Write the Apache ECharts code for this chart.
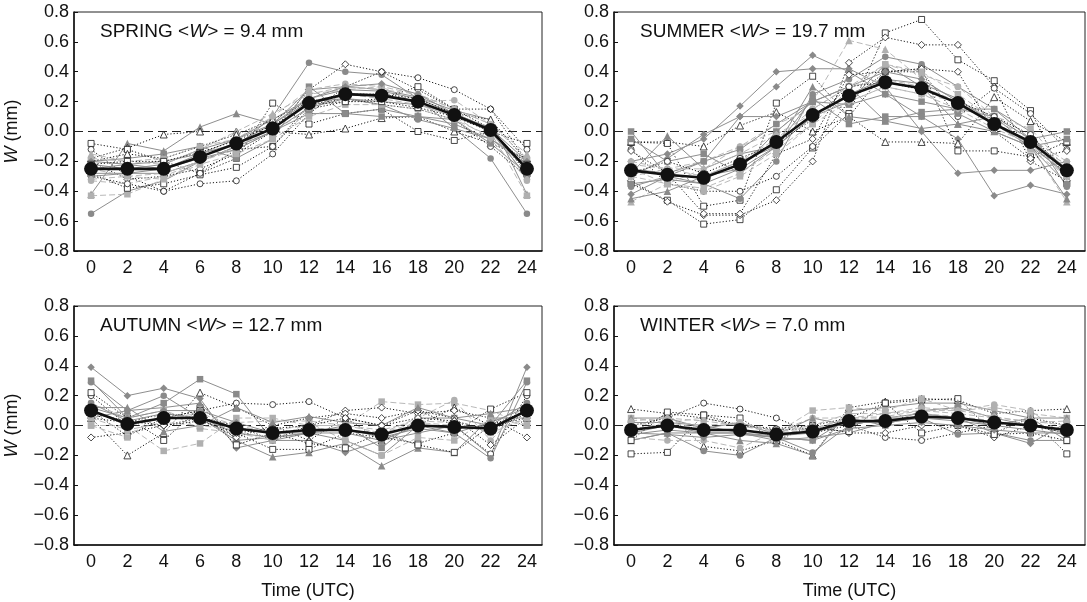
<!DOCTYPE html>
<html>
<head>
<meta charset="utf-8">
<script src="https://cdn.jsdelivr.net/npm/echarts@6/dist/echarts.min.js"></script>
<style>
html,body{margin:0;padding:0;background:#fff;}
#c{width:1087px;height:602px;}
</style>
</head>
<body>
<div id="c"></div>
<script>
// Time of day (UTC)
const hours = [0,2,4,6,8,10,12,14,16,18,20,22,24];

// Season titles
const seasonNames = ['SPRING','SUMMER','AUTUMN','WINTER'];
const seasonMeanW = ['9.4','19.7','12.7','7.0'];

// Mean diurnal cycle per season
const springMean = [-0.25,-0.25,-0.25,-0.17,-0.08,0.02,0.19,0.25,0.24,0.20,0.11,0.01,-0.25];
const summerMean = [-0.26,-0.29,-0.31,-0.22,-0.07,0.11,0.24,0.33,0.29,0.19,0.05,-0.07,-0.26];
const autumnMean = [0.10,0.01,0.05,0.05,-0.02,-0.05,-0.03,-0.03,-0.06,0.00,-0.01,-0.02,0.10];
const winterMean = [-0.03,0.00,-0.03,-0.03,-0.06,-0.04,0.03,0.03,0.06,0.05,0.02,0.00,-0.03];

// Individual stations (estimated)
const springStations = [
  [-0.55,-0.40,-0.33,-0.20,-0.10,0.10,0.46,0.40,0.38,0.22,0.02,-0.18,-0.55],
  [-0.42,-0.08,-0.13,0.03,0.12,0.05,0.28,0.30,0.28,0.23,0.14,0.08,-0.42],
  [-0.43,-0.42,-0.32,-0.20,-0.12,0.00,0.25,0.28,0.30,0.18,0.10,0.00,-0.43],
  [-0.18,-0.11,-0.02,0.00,0.00,0.00,-0.02,0.02,0.09,0.10,0.00,-0.08,-0.18],
  [-0.08,-0.12,-0.20,-0.28,-0.18,0.19,0.05,0.12,0.15,0.00,-0.06,0.00,-0.08],
  [-0.12,-0.30,-0.40,-0.35,-0.33,-0.15,0.12,0.30,0.40,0.36,0.28,0.15,-0.12],
  [-0.20,-0.32,-0.30,-0.25,-0.15,0.00,0.28,0.45,0.40,0.28,0.15,0.15,-0.20],
  [-0.20,-0.18,-0.15,-0.10,-0.18,-0.05,0.30,0.12,0.15,0.10,0.05,-0.05,-0.20],
  [-0.25,-0.22,-0.20,-0.15,-0.05,0.08,0.22,0.28,0.27,0.22,0.12,0.02,-0.25],
  [-0.33,-0.35,-0.30,-0.20,-0.10,0.00,0.15,0.25,0.25,0.20,0.21,0.05,-0.33],
  [-0.28,-0.38,-0.35,-0.29,-0.24,-0.10,0.15,0.20,0.22,0.30,0.15,0.02,-0.28],
  [-0.30,-0.35,-0.40,-0.28,-0.12,-0.10,0.18,0.22,0.18,0.15,0.08,-0.10,-0.30],
  [-0.22,-0.25,-0.22,-0.12,-0.05,0.05,0.20,0.22,0.18,0.08,0.02,-0.05,-0.22],
  [-0.15,-0.20,-0.22,-0.12,0.00,0.12,0.25,0.30,0.28,0.25,0.15,0.05,-0.15],
  [-0.28,-0.28,-0.25,-0.18,-0.12,0.00,0.12,0.12,0.10,0.10,0.08,-0.08,-0.28],
  [-0.20,-0.15,-0.18,-0.10,-0.02,0.08,0.20,0.25,0.25,0.22,0.12,0.08,-0.20],
  [-0.18,-0.20,-0.18,-0.10,-0.05,0.10,0.28,0.32,0.30,0.25,0.15,0.05,-0.18],
  [-0.30,-0.28,-0.28,-0.20,-0.10,0.00,0.16,0.22,0.20,0.18,0.12,0.00,-0.30],
  [-0.25,-0.30,-0.32,-0.22,-0.15,-0.05,0.10,0.18,0.18,0.15,0.08,-0.03,-0.25],
  [-0.20,-0.22,-0.25,-0.15,-0.08,0.05,0.22,0.30,0.32,0.25,0.12,0.02,-0.20],
  [-0.32,-0.30,-0.28,-0.20,-0.10,0.02,0.20,0.25,0.22,0.18,0.10,-0.05,-0.32],
  [-0.22,-0.20,-0.20,-0.14,-0.06,0.04,0.18,0.20,0.20,0.16,0.10,0.00,-0.22]
];
const springStyles = ['gc','gt','ls','ot','os','oc','od','gs','gd','lc','os','oc','gc','lt','gs','ot','lc','gc','ls','gd','ld','os'];

const summerStations = [
  [-0.20,-0.15,-0.05,0.17,0.40,0.42,0.42,0.30,0.00,-0.28,-0.26,-0.26,-0.20],
  [-0.42,-0.30,-0.20,0.10,0.30,0.51,0.40,0.25,0.10,-0.05,-0.43,-0.36,-0.42],
  [-0.47,-0.35,-0.25,-0.10,0.00,0.20,0.61,0.55,0.35,0.20,0.05,-0.10,-0.47],
  [-0.35,-0.46,-0.62,-0.59,-0.39,-0.11,0.12,0.66,0.75,0.48,0.34,0.14,-0.35],
  [-0.33,-0.47,-0.56,-0.56,-0.46,-0.20,0.46,0.63,0.58,0.58,0.30,-0.20,-0.33],
  [-0.07,-0.07,-0.10,0.04,0.13,0.00,0.10,-0.07,-0.07,-0.08,0.23,0.07,-0.07],
  [-0.07,-0.08,-0.50,-0.46,0.19,0.37,0.10,0.40,0.42,-0.13,-0.13,-0.17,-0.07],
  [-0.12,-0.35,-0.40,-0.40,-0.30,-0.10,0.20,0.40,0.40,0.10,0.29,0.12,-0.12],
  [0.00,-0.30,-0.30,-0.25,0.00,0.20,0.30,0.07,0.13,0.15,0.15,-0.05,0.00],
  [-0.37,-0.30,-0.35,-0.45,-0.20,0.25,0.35,0.50,0.45,0.30,0.15,0.00,-0.37],
  [-0.45,-0.40,-0.30,-0.20,-0.10,0.30,0.10,0.07,0.02,0.05,0.10,-0.10,-0.45],
  [-0.30,-0.25,-0.20,-0.10,0.05,0.15,0.30,0.45,0.38,0.30,0.10,-0.05,-0.30],
  [-0.05,-0.20,-0.15,-0.28,-0.10,0.22,0.05,0.10,0.10,0.12,0.00,-0.10,-0.05],
  [-0.13,-0.28,-0.55,-0.55,-0.15,-0.05,0.38,0.40,0.42,0.40,0.00,-0.18,-0.13],
  [-0.30,-0.18,-0.02,0.10,0.10,0.20,0.30,0.40,0.35,0.20,0.05,-0.08,-0.30],
  [-0.25,-0.35,-0.40,-0.30,-0.15,0.05,0.20,0.30,0.25,0.20,0.10,0.02,-0.25],
  [-0.28,-0.03,-0.25,-0.15,-0.10,0.10,0.20,0.45,0.30,0.05,0.00,-0.10,-0.28],
  [-0.20,-0.25,-0.30,-0.20,-0.05,0.15,0.30,0.35,0.30,0.20,0.08,-0.05,-0.20],
  [-0.35,-0.32,-0.35,-0.25,-0.10,0.10,0.25,0.35,0.32,0.22,0.05,-0.10,-0.35],
  [-0.25,-0.28,-0.20,-0.12,0.05,0.20,0.18,0.25,0.20,0.15,0.10,-0.05,-0.25],
  [-0.30,-0.35,-0.38,-0.28,-0.12,0.05,0.28,0.45,0.40,0.25,0.08,-0.12,-0.30],
  [-0.22,-0.25,-0.25,-0.15,-0.02,0.12,0.20,0.30,0.25,0.15,0.02,-0.08,-0.22],
  [-0.28,-0.20,-0.28,-0.18,-0.08,0.08,0.30,0.33,0.28,0.20,0.10,-0.02,-0.28]
];
const summerStyles = ['gd','gd','lt','os','od','ot','os','oc','gs','gc','gt','lc','gs','od','gd','ls','gt','lc','gc','gs','ls','ld','oc'];

const autumnStations = [
  [0.39,0.20,0.25,0.18,-0.15,-0.10,-0.10,-0.18,-0.10,-0.05,0.00,-0.20,0.39],
  [0.30,0.05,0.15,0.31,0.21,-0.10,-0.05,0.00,-0.15,0.05,0.05,0.00,0.30],
  [0.00,0.00,-0.17,-0.12,0.05,0.05,0.00,0.00,0.16,0.14,0.15,0.10,0.00],
  [0.05,-0.20,-0.05,0.22,0.12,0.00,-0.10,0.05,-0.10,0.00,0.12,0.00,0.05],
  [0.20,0.00,0.05,0.10,0.15,0.14,0.16,0.05,0.00,0.10,0.00,-0.19,0.20],
  [-0.08,-0.05,0.00,0.05,0.00,-0.10,0.00,0.10,0.12,0.08,0.10,0.05,-0.08],
  [0.22,0.05,-0.10,0.12,-0.05,-0.16,-0.16,-0.05,-0.08,-0.12,-0.05,0.11,0.22],
  [0.29,0.10,0.20,0.05,-0.10,-0.08,-0.05,-0.10,-0.20,0.00,-0.05,-0.22,0.29],
  [0.05,0.10,0.12,0.15,-0.10,-0.21,-0.18,-0.12,-0.27,-0.15,-0.18,0.05,0.05],
  [0.15,0.05,0.10,0.02,0.02,0.03,0.03,0.00,-0.05,0.05,0.17,-0.10,0.15],
  [0.10,-0.07,0.05,0.10,-0.13,-0.05,-0.12,-0.15,-0.05,-0.13,-0.18,0.00,0.10],
  [0.00,-0.08,0.10,-0.02,-0.05,-0.10,0.02,-0.10,-0.20,-0.08,-0.10,0.05,0.00],
  [0.05,0.02,0.08,0.05,-0.08,0.00,0.05,0.08,0.05,0.10,0.05,-0.13,0.05],
  [0.12,0.12,-0.04,0.00,0.12,0.02,0.06,0.02,0.00,0.12,0.05,0.08,0.12],
  [0.10,0.00,0.05,0.08,0.00,-0.05,-0.02,-0.03,-0.05,0.02,0.00,-0.02,0.10],
  [0.15,0.03,0.08,0.05,-0.05,-0.08,-0.05,-0.05,-0.10,0.00,-0.02,0.00,0.15],
  [0.05,-0.03,0.02,0.00,-0.03,-0.03,0.00,0.00,-0.03,0.03,0.02,-0.05,0.05],
  [0.12,0.05,0.10,0.10,0.02,-0.05,-0.05,-0.02,-0.08,-0.02,-0.05,0.02,0.12],
  [0.08,0.03,0.00,0.03,-0.05,-0.02,0.00,0.05,0.00,0.05,0.03,-0.03,0.08]
];
const autumnStyles = ['gd','gs','ls','ot','oc','od','os','gc','gt','lc','os','ls','od','gt','lc','gc','ls','gd','od'];

const winterStations = [
  [0.11,0.08,-0.14,-0.17,-0.10,-0.20,0.12,0.16,0.18,0.17,0.08,0.10,0.11],
  [-0.19,-0.18,0.07,0.05,-0.10,0.00,0.05,0.15,0.17,0.18,-0.05,0.05,-0.19],
  [0.00,0.05,0.15,0.11,0.05,-0.05,0.00,-0.08,-0.10,-0.05,0.00,0.05,0.00],
  [-0.10,-0.05,-0.17,-0.20,-0.08,-0.18,0.00,0.05,0.05,-0.06,-0.05,-0.10,-0.10],
  [-0.10,-0.05,-0.05,-0.10,-0.12,-0.20,0.10,0.12,0.15,0.15,0.10,0.05,-0.10],
  [0.05,0.02,0.05,0.00,-0.05,0.10,0.12,0.10,0.18,0.10,0.12,0.08,0.05],
  [-0.05,0.00,-0.05,-0.05,-0.08,-0.10,0.05,0.00,0.10,0.12,0.05,0.00,-0.05],
  [-0.05,0.08,0.05,0.00,-0.02,0.00,-0.05,-0.05,0.00,0.00,-0.08,0.00,-0.05],
  [0.02,0.02,0.00,-0.05,-0.10,-0.08,-0.05,0.02,0.05,0.05,-0.05,-0.12,0.02],
  [-0.08,-0.10,-0.10,-0.15,-0.04,0.05,0.05,0.08,0.10,0.10,0.14,0.10,-0.08],
  [-0.10,0.09,0.07,0.00,-0.03,-0.02,-0.04,0.15,-0.05,0.00,-0.06,-0.05,-0.10],
  [0.05,0.05,-0.02,0.02,-0.06,0.05,0.00,0.05,0.08,0.05,0.00,0.05,0.05],
  [-0.03,0.02,-0.02,-0.03,-0.05,-0.03,0.05,0.05,0.08,0.06,0.03,0.00,-0.03],
  [-0.06,-0.03,-0.05,-0.05,-0.07,-0.05,0.02,0.02,0.05,0.03,0.00,-0.03,-0.06],
  [0.00,0.03,0.00,0.02,-0.04,-0.02,0.05,0.06,0.10,0.08,0.05,0.03,0.00],
  [-0.05,-0.06,-0.08,-0.06,-0.08,-0.10,-0.02,0.00,0.02,0.00,-0.03,-0.05,-0.05],
  [0.03,0.05,0.03,0.00,-0.04,0.00,0.08,0.08,0.12,0.10,0.06,0.02,0.03]
];
const winterStyles = ['ot','os','oc','gc','gt','ls','gs','od','gd','lc','os','gt','lc','gc','ls','gd','ld'];

const seasons = [
  {mean: springMean, st: springStations, sty: springStyles},
  {mean: summerMean, st: summerStations, sty: summerStyles},
  {mean: autumnMean, st: autumnStations, sty: autumnStyles},
  {mean: winterMean, st: winterStations, sty: winterStyles}
];

// Layout
const grids = [
  {left: 74, top: 12, width: 468, height: 239},
  {left: 614, top: 12, width: 471, height: 239},
  {left: 74, top: 306, width: 468, height: 239},
  {left: 614, top: 306, width: 471, height: 239}
];
const xRanges = [[-0.94, 24.83], [-0.94, 25.0], [-0.94, 24.83], [-0.94, 25.0]];

const FONT = 'Liberation Sans, Arial, sans-serif';
const FS = 18;
const FS_T = 19;

const symMap = {c: 'circle', s: 'rect', t: 'triangle', d: 'diamond'};
function styleFor(key) {
  const kind = key[0], sym = symMap[key[1]];
  const sz = key[1] === 'c' ? 6.5 : (key[1] === 's' ? 6.5 : 7.5);
  if (kind === 'g') {
    return {symbol: sym, symbolSize: sz,
      lineStyle: {color: '#8e8e8e', width: 1, type: 'solid'},
      itemStyle: {color: '#8a8a8a', borderWidth: 0}};
  } else if (kind === 'l') {
    return {symbol: sym, symbolSize: sz,
      lineStyle: {color: '#b9b9b9', width: 1, type: [6, 3]},
      itemStyle: {color: '#b0b0b0', borderWidth: 0}};
  }
  return {symbol: sym, symbolSize: sz - 0.5,
    lineStyle: {color: '#1a1a1a', width: 1, type: [1.2, 2]},
    itemStyle: {color: '#ffffff', borderColor: '#1a1a1a', borderWidth: 0.8}};
}

const fmtY = v => (v < 0 ? '\u2212' : '') + Math.abs(v).toFixed(1);

const option = {
  animation: false,
  backgroundColor: '#fff',
  textStyle: {fontFamily: FONT},
  grid: grids.map(g => Object.assign({show: true, borderColor: '#222', borderWidth: 1, backgroundColor: 'transparent'}, g)),
  title: seasonNames.map((n, i) => ({
    text: '{a|' + n + ' <}{i|W}{a|> = ' + seasonMeanW[i] + ' mm}',
    left: grids[i].left + 21,
    top: grids[i].top + 5,
    textStyle: {
      rich: {
        a: {fontFamily: FONT, fontSize: FS_T, color: '#111', fontWeight: 'normal'},
        i: {fontFamily: FONT, fontSize: FS_T, color: '#111', fontStyle: 'italic', fontWeight: 'normal'}
      }
    }
  })),
  xAxis: grids.map((g, i) => ({
    type: 'value', gridIndex: i,
    min: xRanges[i][0], max: xRanges[i][1],
    axisLine: {show: true, onZero: false, lineStyle: {color: '#111', width: 1.5}},
    axisTick: {show: false},
    splitLine: {show: false},
    axisLabel: {customValues: hours, fontSize: FS, color: '#111', fontFamily: FONT, margin: 8,
      formatter: v => String(Math.round(v))},
    name: i >= 2 ? 'Time (UTC)' : '',
    nameLocation: 'middle', nameGap: 37,
    nameTextStyle: {fontSize: FS, color: '#111', fontFamily: FONT}
  })),
  yAxis: grids.map((g, i) => ({
    type: 'value', gridIndex: i,
    min: -0.8, max: 0.8, interval: 0.2,
    axisLine: {show: true, onZero: false, lineStyle: {color: '#111', width: 1.5}},
    axisTick: {show: true, inside: true, length: 4, lineStyle: {color: '#111', width: 1}},
    splitLine: {show: false},
    axisLabel: {fontSize: FS, color: '#111', fontFamily: FONT, margin: 5, formatter: fmtY},
    name: (i % 2 === 0) ? '{i|W} (mm)' : '',
    nameLocation: 'middle', nameGap: 53, nameRotate: 90,
    nameTextStyle: {
      fontSize: FS, color: '#111', fontFamily: FONT,
      rich: {i: {fontSize: FS, color: '#111', fontFamily: FONT, fontStyle: 'italic'}}
    }
  })),
  series: []
};

seasons.forEach((s, i) => {
  s.st.forEach((vals, k) => {
    const st = styleFor(s.sty[k]);
    option.series.push(Object.assign({
      type: 'line', xAxisIndex: i, yAxisIndex: i,
      data: vals.map((v, j) => [hours[j], v]),
      z: 2, silent: true
    }, st));
  });
  option.series.push({
    type: 'line', xAxisIndex: i, yAxisIndex: i,
    data: s.mean.map((v, j) => [hours[j], v]),
    symbol: 'circle', symbolSize: 14,
    lineStyle: {color: '#111', width: 2.6},
    itemStyle: {color: '#111'},
    z: 5, silent: true,
    markLine: {
      silent: true, symbol: 'none', label: {show: false},
      lineStyle: {color: '#222', width: 1, type: [9, 5]},
      data: [{yAxis: 0}], z: 1
    }
  });
});

const chart = echarts.init(document.getElementById('c'), null, {renderer: 'canvas'});
chart.setOption(option);
</script>
</body>
</html>
